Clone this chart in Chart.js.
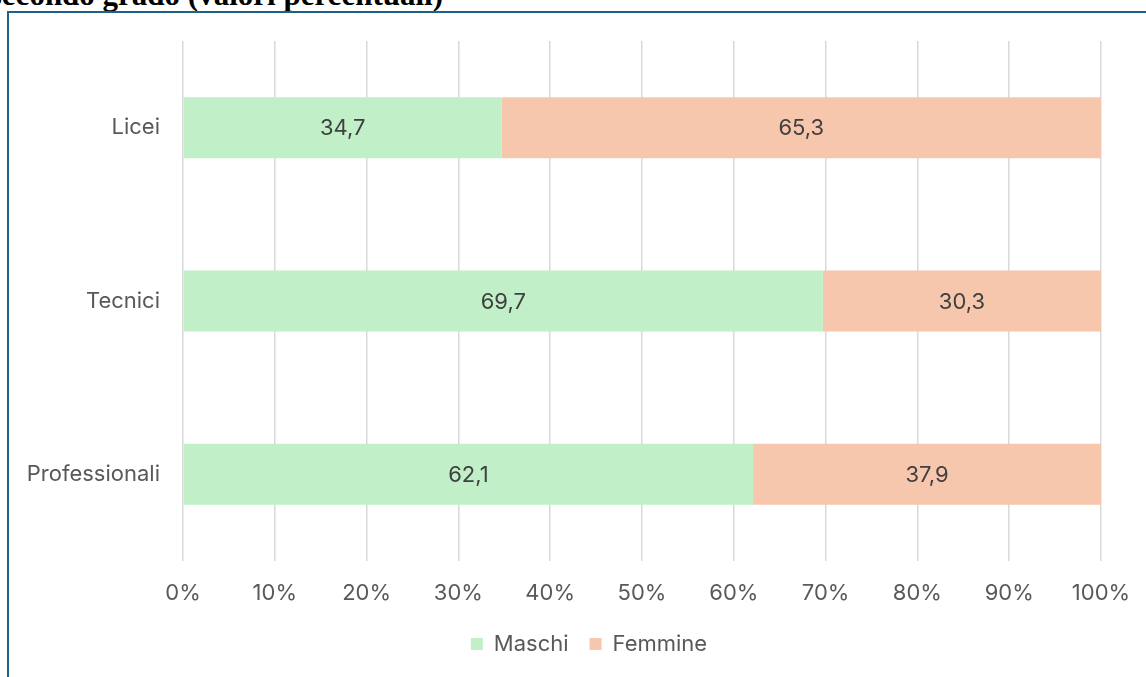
<!DOCTYPE html>
<html lang="it">
<head>
<meta charset="utf-8">
<title>Secondo grado (valori percentuali)</title>
<script src="https://cdn.jsdelivr.net/npm/chart.js@4.4.1/dist/chart.umd.min.js"></script>
<style>
  html, body { margin: 0; padding: 0; background: #fff; overflow: hidden; width: 1146px; height: 677px; }
  .title {
    position: absolute; right: 703px; top: -21px; margin: 0;
    font: bold 31px/32px "Liberation Serif", "Times New Roman", serif;
    color: #000; white-space: nowrap;
  }
  .box {
    position: absolute; left: 7px; top: 11px; z-index: 1;
    border-left: 2px solid #1f6188; border-top: 2px solid #1f6188;
    background: #fff; width: 1160px; height: 690px;
  }
  .box canvas { display: block; }
</style>
</head>
<body>
<h1 class="title">secondo grado (valori percentuali)</h1>
<div class="box"><canvas id="chart" width="1160" height="690"></canvas></div>
<script>
  // Tipologie di scuola e quota per genere (%)
  const categories = ["Licei", "Tecnici", "Professionali"];
  const maschi = [34.7, 69.7, 62.1];
  const femmine = [65.3, 30.3, 37.9];
  const xTicks = [0, 10, 20, 30, 40, 50, 60, 70, 80, 90, 100];

  const FONT = '"Inter", "Noto Sans", sans-serif';
  const SIZE = 22;
  const fmt = (v) => v.toFixed(1).replace(".", ",");

  // Draws the value in the middle of each bar segment (no datalabels plugin offline)
  const barValues = {
    id: "barValues",
    afterDatasetsDraw(chart) {
      const ctx = chart.ctx;
      ctx.save();
      ctx.font = SIZE + "px " + FONT;
      ctx.fillStyle = "#404040";
      ctx.textAlign = "center";
      ctx.textBaseline = "middle";
      chart.data.datasets.forEach((ds, i) => {
        chart.getDatasetMeta(i).data.forEach((bar, j) => {
          ctx.fillText(fmt(ds.data[j]), (bar.x + bar.base) / 2, bar.y + 1);
        });
      });
      ctx.restore();
    },
  };

  // The Excel frame is wider than the plot on the right, so the legend sits
  // centred on the whole frame rather than on the padded area.
  const legendShift = {
    id: "legendShift",
    afterLayout(chart) {
      if (chart.legend) chart.legend.right += 68;
    },
  };

  new Chart(document.getElementById("chart"), {
    type: "bar",
    data: {
      labels: categories,
      datasets: [
        { label: "Maschi", data: maschi, backgroundColor: "#c1f0c8", borderWidth: 0 },
        { label: "Femmine", data: femmine, backgroundColor: "#f6c6ad", borderWidth: 0 },
      ],
    },
    options: {
      indexAxis: "y",
      responsive: false,
      animation: false,
      barPercentage: 0.352,
      categoryPercentage: 1,
      layout: { padding: { top: 28, right: 68, bottom: 38, left: 0 } },
      plugins: {
        legend: {
          position: "bottom",
          labels: {
            boxWidth: 12, boxHeight: 12, padding: 21,
            color: "#595959", font: { family: FONT, size: SIZE },
          },
        },
        tooltip: { enabled: false },
      },
      scales: {
        x: {
          stacked: true, min: 0, max: 100,
          afterBuildTicks: (s) => { s.ticks = xTicks.map((v) => ({ value: v })); },
          afterFit: (s) => { s.height = 51; s.paddingLeft = 0; s.paddingRight = 0; },
          ticks: { color: "#595959", padding: 19, font: { family: FONT, size: SIZE }, callback: (v) => v + "%" },
          grid: { color: "#d9d9d9", lineWidth: 1.5, drawTicks: false },
          border: { display: false },
        },
        y: {
          stacked: true,
          afterFit: (s) => { s.width = 174; s.paddingTop = 0; s.paddingBottom = 0; },
          ticks: { color: "#595959", padding: 23, font: { family: FONT, size: SIZE } },
          grid: { display: false, drawTicks: false },
          border: { display: false },
        },
      },
    },
    plugins: [barValues, legendShift],
  });
</script>
</body>
</html>
